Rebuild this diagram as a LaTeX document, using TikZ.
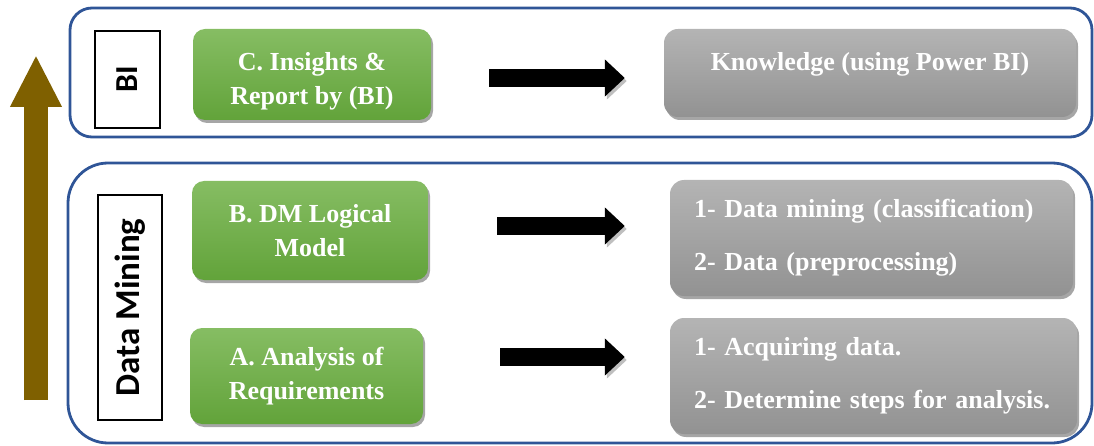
\documentclass[tikz,border=0pt]{standalone}
\usepackage{fontspec}
\setmainfont{Liberation Serif}
\newfontfamily\calibri{Carlito}
\usepackage{xcolor}
\usetikzlibrary{arrows.meta,positioning,shadows,calc}
\definecolor{frameblue}{RGB}{47,85,151}
\definecolor{greentop}{RGB}{134,189,99}
\definecolor{greenbot}{RGB}{98,163,58}
\definecolor{greytop}{RGB}{180,180,180}
\definecolor{greybot}{RGB}{146,146,146}
\definecolor{upbrown}{RGB}{127,96,0}

\begin{document}
\begin{tikzpicture}[x=1pt,y=-1pt,
    frame/.style={draw=frameblue,line width=2.8pt},
    tag/.style={draw=black,line width=1.4pt,fill=white,rotate=90,inner sep=0pt,
      font=\calibri\bfseries\fontsize{32}{36}\selectfont},
    softshadow/.style={drop shadow={shadow xshift=2pt,shadow yshift=-3pt,opacity=0.35,fill=black}},
    stepbox/.style={rounded corners=12pt,top color=greentop,bottom color=greenbot,
      text=white,align=center,softshadow,font=\bfseries\fontsize{26}{34}\selectfont},
    greybox/.style={rounded corners=14pt,top color=greytop,bottom color=greybot,
      text=white,softshadow,font=\bfseries\fontsize{26}{32}\selectfont},
    listbox/.style={greybox,align=left,inner xsep=24pt,font=\bfseries\fontsize{26}{53}\selectfont},
    fatarrow/.style={draw=black,line width=18pt,-{Triangle[length=20pt,width=36pt]},
      preaction={draw=black!25,transform canvas={xshift=2pt,yshift=-3pt}}},
    uparrow/.style={draw=upbrown,line width=24pt,-{Triangle[length=52pt,width=48pt]}}]

  \useasboundingbox (0,0) rectangle (1094,446);

  % Layer frames
  \draw[frame,rounded corners=22pt] (70,8) rectangle (1092,137);
  \draw[frame,rounded corners=40pt] (68,163) rectangle (1092,443);

  % Upward arrow
  \coordinate (base) at (36,400);
  \coordinate (top)  at (36,55);
  \draw[uparrow] (base) -- (top);

  % Layer tags
  \node[tag,minimum width=97pt,minimum height=65pt] (bi) at (127.5,79.5) {BI};
  \node[tag,minimum width=225pt,minimum height=64pt,
        font=\calibri\bfseries\fontsize{35}{40}\selectfont] (dm) at (130,307.5) {Data Mining};

  % Steps
  \node[stepbox,minimum width=238pt,minimum height=91pt] (insights) at (312,74.5)
    {\raisebox{-6pt}[\height][\depth]{\begin{tabular}{@{}c@{}}C. Insights \&\\Report by (BI)\end{tabular}}};
  \node[stepbox,minimum width=236pt,minimum height=99pt] (logical) at (310,230.5)
    {B. DM Logical\\Model};
  \node[stepbox,minimum width=233pt,minimum height=96pt] (analysis) at (306.5,376)
    {A. Analysis of\\Requirements};

  % Outcomes
  \node[greybox,minimum width=412pt,minimum height=88pt,text depth=24pt] (knowledge) at (870,73)
    {Knowledge (using Power BI)};
  \node[listbox,minimum width=403pt,minimum height=116pt,text width=355pt] (mining) at (871.5,238)
    {1- Data mining (classification)\\2- Data (preprocessing)};
  \node[listbox,minimum width=407pt,minimum height=116pt,text width=359pt] (acquire) at (873.5,376)
    {1- Acquiring data.\\2- Determine steps for analysis.};

  % Step -> outcome
  \draw[fatarrow,shorten <=58pt,shorten >=39pt]
    ([yshift=-3.5pt]insights.east) -- ([yshift=-3.5pt]insights.east -| knowledge.west);
  \draw[fatarrow,shorten <=69pt,shorten >=45pt]
    ([yshift=4.5pt]logical.east) -- ([yshift=4.5pt]logical.east -| mining.west);
  \draw[fatarrow,shorten <=77pt,shorten >=45pt]
    ([yshift=19pt]analysis.east) -- ([yshift=19pt]analysis.east -| acquire.west);
\end{tikzpicture}
\end{document}
